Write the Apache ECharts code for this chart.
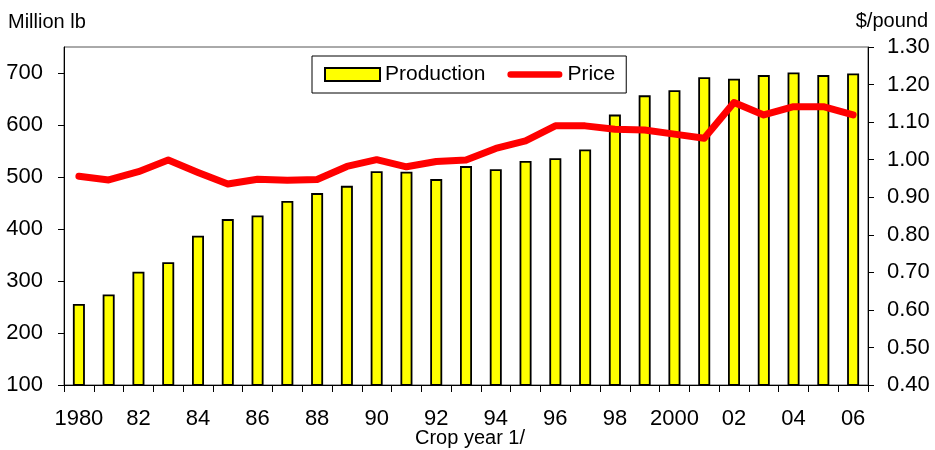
<!DOCTYPE html>
<html>
<head>
<meta charset="utf-8">
<script src="https://cdn.jsdelivr.net/npm/echarts@6/dist/echarts.min.js"></script>
<style>
  html, body { margin: 0; padding: 0; background: #fff; }
  #chart { width: 935px; height: 450px; }
</style>
</head>
<body>
<div id="chart"></div>
<script>
// Crop years
var categories = ['1980','1981','1982','1983','1984','1985','1986','1987','1988','1989',
  '1990','1991','1992','1993','1994','1995','1996','1997','1998','1999',
  '2000','2001','2002','2003','2004','2005','2006'];
// Tick labels shown under the x axis (every other year)
var xTickLabels = ['1980','','82','','84','','86','','88','','90','','92','','94','','96','','98','',
  '2000','','02','','04','','06'];
// Production, million lb
var production = [256, 274, 318, 336, 387, 419, 426, 454, 469, 483,
  511, 510, 496, 521, 515, 531, 536, 553, 620, 657,
  667, 692, 689, 696, 701, 696, 699];
// Price, $/pound
var price = [0.956, 0.946, 0.968, 0.999, 0.966, 0.935, 0.948, 0.945, 0.947, 0.982,
  1.000, 0.981, 0.995, 0.999, 1.030, 1.050, 1.090, 1.090, 1.081, 1.079,
  1.068, 1.057, 1.152, 1.119, 1.141, 1.141, 1.119];
var leftTicks = [100, 200, 300, 400, 500, 600, 700];

var FONT = 'Arial, "Liberation Sans", sans-serif';
var chart = echarts.init(document.getElementById('chart'), null, { renderer: 'canvas' });
chart.setOption({
  animation: false,
  backgroundColor: '#fff',
  textStyle: { fontFamily: FONT, color: '#000' },
  grid: { left: 64, right: 67, top: 47, bottom: 65, show: true, borderColor: '#555', borderWidth: 1 },
  legend: {
    left: 312, top: 56,
    padding: [8, 11, 8, 12],
    borderColor: '#000', borderWidth: 1, backgroundColor: '#fff',
    itemWidth: 55, itemHeight: 13, itemGap: 22,
    textStyle: { fontFamily: FONT, fontSize: 21, color: '#000' },
    data: [
      { name: 'Production', icon: 'rect' },
      { name: 'Price', icon: 'path://M3.5,0 H56.5 A3.5,3.5 0 0 1 56.5,7 H3.5 A3.5,3.5 0 0 1 3.5,0 Z' }
    ]
  },
  xAxis: {
    type: 'category',
    data: categories,
    boundaryGap: true,
    axisLine: { lineStyle: { color: '#000', width: 1 } },
    axisTick: { show: true, interval: 0, length: 7, lineStyle: { color: '#000' } },
    axisLabel: {
      interval: 1, margin: 23, fontSize: 22, color: '#000', fontFamily: FONT,
      formatter: function (v, i) { return xTickLabels[i]; }
    },
    splitLine: { show: false }
  },
  yAxis: [
    {
      type: 'value', min: 100, max: 750, interval: 100, position: 'left',
      axisLine: { show: true, lineStyle: { color: '#000', width: 1 } },
      axisTick: { show: true, length: 6, lineStyle: { color: '#000' }, customValues: leftTicks },
      axisLabel: { margin: 21, fontSize: 22, color: '#000', fontFamily: FONT, customValues: leftTicks,
        formatter: function (v) { return v === 750 ? '' : String(v); } },
      splitLine: { show: false }
    },
    {
      type: 'value', min: 0.4, max: 1.3, interval: 0.1, position: 'right',
      axisLine: { show: true, lineStyle: { color: '#000', width: 1 } },
      axisTick: { show: true, length: 6, lineStyle: { color: '#000' } },
      axisLabel: { margin: 19, fontSize: 22, color: '#000', fontFamily: FONT,
        formatter: function (v) { return v.toFixed(2); } },
      splitLine: { show: false }
    }
  ],
  graphic: [
    { type: 'text', left: 8, top: 12, style: { text: 'Million lb', font: '20px ' + FONT, fill: '#000' } },
    { type: 'text', right: 7, top: 11, style: { text: '$/pound', font: '20px ' + FONT, fill: '#000' } },
    { type: 'text', left: 415, top: 428, style: { text: 'Crop year 1/', font: '20px ' + FONT, fill: '#000' } }
  ],
  series: [
    {
      name: 'Production', type: 'bar', yAxisIndex: 0, data: production,
      barWidth: 12,
      itemStyle: { color: '#FFFF00', borderColor: '#000', borderWidth: 1.8 }
    },
    {
      name: 'Price', type: 'line', yAxisIndex: 1, data: price,
      showSymbol: false, symbol: 'none', z: 5,
      lineStyle: { color: '#FF0000', width: 7, cap: 'round', join: 'round' },
      itemStyle: { color: '#FF0000' }
    }
  ]
});
</script>
</body>
</html>
